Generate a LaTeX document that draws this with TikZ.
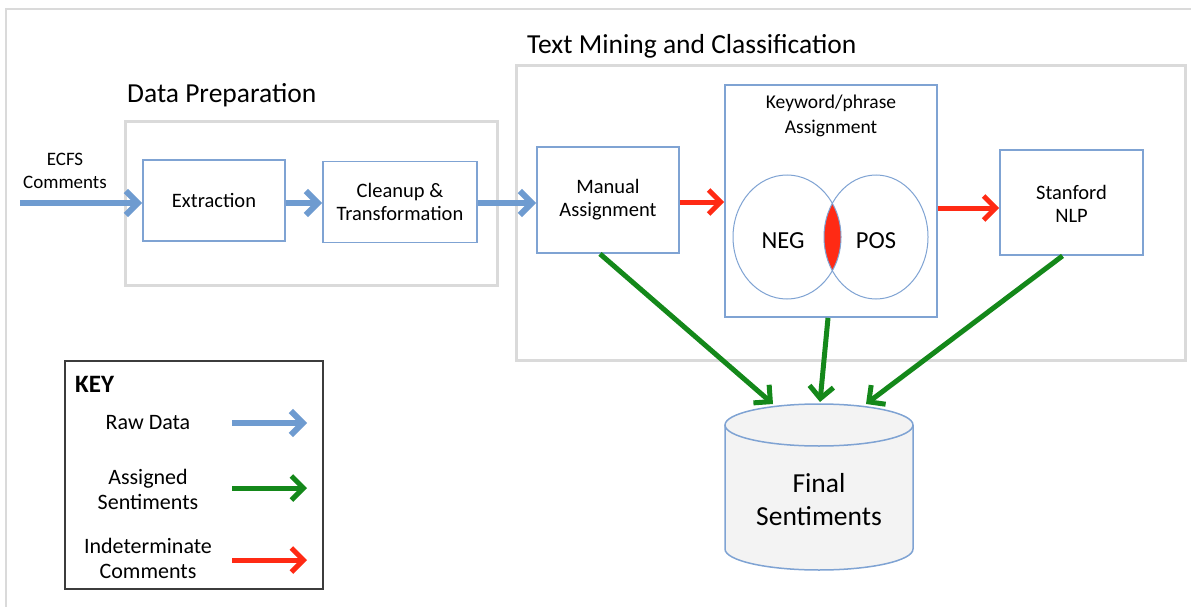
\documentclass[tikz,border=0pt]{standalone}
\usepackage{fontspec}
\setmainfont{Carlito}
\usetikzlibrary{arrows.meta,calc}
\definecolor{rawblue}{HTML}{6E9BD0}
\definecolor{boxblue}{HTML}{7FA3D3}
\definecolor{asgreen}{HTML}{14881A}
\definecolor{indred}{HTML}{FF2A14}
\definecolor{framegray}{HTML}{DADADA}
\definecolor{keygray}{HTML}{3C3C3C}
\definecolor{cylfill}{HTML}{F3F3F3}
\begin{document}
\begin{tikzpicture}[x=1pt,y=-1pt,
  procbox/.style={draw=boxblue,line width=1.8pt,fill=white,align=center,inner sep=0pt,
    font=\fontsize{20.5}{23}\selectfont},
  groupbox/.style={draw=framegray,line width=3pt,inner sep=0pt},
  title/.style={anchor=west,inner sep=0pt,font=\fontsize{27.5}{30}\selectfont},
  lbl/.style={align=center,inner sep=0pt,font=\fontsize{22}{25}\selectfont},
  rawarrow/.style={draw=rawblue,line width=6pt,-{Straight Barb[length=12pt,width=24pt,line width=6pt]}},
  sentarrow/.style={draw=asgreen,line width=5pt,-{Straight Barb[length=12pt,width=24pt,line width=5pt]}},
  indarrow/.style={draw=indred,line width=5pt,-{Straight Barb[length=12pt,width=24pt,line width=5pt]}}]
\useasboundingbox (0,0) rectangle (1191,607);
% outer frame
\draw[framegray,line width=2pt] (6,607) -- (6,9) -- (1191,9);

% group boxes
\node[groupbox,minimum width=372pt,minimum height=163pt] (dp) at (311,203.5) {};
\node[groupbox,minimum width=669pt,minimum height=294pt] (tm) at (850.5,213) {};
\node[title] (dpt) at (127,95) {Data Preparation};
\node[title] (tmt) at (527,46) {Text Mining and Classification};

% process boxes
\node[procbox,minimum width=142pt,minimum height=81pt] (ext) at (214,200.5) {Extraction};
\node[procbox,minimum width=154pt,minimum height=81pt] (cln) at (400,202) {};
\node[procbox,draw=none,fill=none] (clnt) at (400,202) {Cleanup \&\\Transformation};
\node[procbox,minimum width=142pt,minimum height=106pt] (man) at (608,200) {};
\node[procbox,draw=none,fill=none] (mant) at (608,200) {Manual\\Assignment};
\node[procbox,minimum width=212pt,minimum height=232pt] (kw) at (831,201) {};
\node[procbox,draw=none,fill=none,font=\fontsize{19.5}{25}\selectfont] (kwt) at (831,116) {Keyword/phrase\\Assignment};
\node[procbox,minimum width=143pt,minimum height=105pt] (stf) at (1071.5,202.5) {};
\node[procbox,draw=none,fill=none] (stft) at (1071.5,204) {Stanford\\NLP};

% Venn
\begin{scope}
  \clip (787,237) ellipse [x radius=54, y radius=62];
  \fill[indred] (876,237) ellipse [x radius=52, y radius=62];
\end{scope}
\draw[boxblue,line width=1pt] (787,237) ellipse [x radius=54, y radius=62];
\draw[boxblue,line width=1pt] (876,237) ellipse [x radius=52, y radius=62];
\node[lbl,font=\fontsize{24.5}{28}\selectfont] (neg) at (783,241) {NEG};
\node[lbl,font=\fontsize{24.5}{28}\selectfont] (pos) at (876,241) {POS};

% cylinder
\fill[cylfill] (725,425) -- (725,549) arc[start angle=180,end angle=0,x radius=94,y radius=21] -- (913,425) -- cycle;
\draw[boxblue,line width=1.5pt,fill=cylfill] (819,425) ellipse [x radius=94, y radius=21];
\draw[boxblue,line width=1.5pt] (725,425) -- (725,549) arc[start angle=180,end angle=0,x radius=94,y radius=21] -- (913,425);
\node[lbl,font=\fontsize{27.5}{33}\selectfont] (fs) at (819,500) {Final\\Sentiments};
\coordinate (fsL) at (773,404);
\coordinate (fsM) at (820,402);
\coordinate (fsR) at (866,404);

% input label
\node[lbl,font=\fontsize{19}{23}\selectfont] (ecfs) at (65,171) {ECFS\\Comments};
\coordinate (in) at (20,203);

% flow arrows
\draw[rawarrow] (in) -- (ext.west |- in);
\draw[rawarrow] (ext.east |- in) -- (cln.west |- in);
\draw[rawarrow] (cln.east |- in) -- (man.west |- in);
\draw[indarrow] (man.east |- 0,202) -- (kw.west |- 0,202);
\draw[indarrow] (kw.east |- 0,208) -- (stf.west |- 0,208);
\draw[sentarrow] ([xshift=-8pt]man.south) -- (fsL);
\draw[sentarrow] ([xshift=-3pt]kw.south) -- (fsM);
\draw[sentarrow] ([xshift=-9pt]stf.south) -- (fsR);

% key
\node[draw=keygray,line width=2.5pt,minimum width=258pt,minimum height=228pt,inner sep=0pt] (key) at (194,475) {};
\node[anchor=west,inner sep=0pt,font=\fontsize{25}{28}\selectfont\bfseries] (keyt) at (75,384) {KEY};
\node[lbl] (k1) at (148,423) {Raw Data};
\node[lbl] (k2) at (148,489) {Assigned\\Sentiments};
\node[lbl] (k3) at (148,558) {Indeterminate\\Comments};
\coordinate (k1a) at (232,423); \coordinate (k1b) at (307,423);
\coordinate (k2a) at (232,488); \coordinate (k2b) at (307,488);
\coordinate (k3a) at (232,560); \coordinate (k3b) at (307,560);
\draw[rawarrow] (k1a) -- (k1b);
\draw[sentarrow] (k2a) -- (k2b);
\draw[indarrow] (k3a) -- (k3b);
\end{tikzpicture}
\end{document}
